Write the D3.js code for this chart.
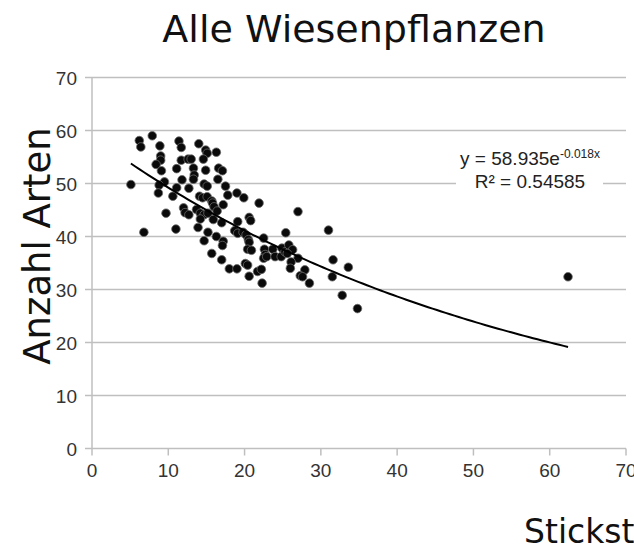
<!DOCTYPE html>
<html>
<head>
<meta charset="utf-8">
<script src="https://cdn.jsdelivr.net/npm/d3@7"></script>
<style>
  body { margin: 0; background: #fff; }
  svg { display: block; }
</style>
</head>
<body>
<script>
var width = 634;
var height = 552;

// Stickstoff (x) and Anzahl Arten (y)
var stickstoff = [6.2, 6.4, 7.9, 8.9, 11.4, 11.7, 14.0, 14.9, 15.1, 16.3,
  9.0, 9.0, 8.4, 11.7, 12.6, 13.0, 14.6, 9.1, 11.1, 13.3,
  13.4, 14.9, 16.6, 17.1, 16.5, 5.1, 9.5, 8.8, 11.8, 13.3,
  14.7, 15.1, 11.1, 12.7, 8.7, 10.6, 14.1, 14.5, 15.1, 15.7,
  15.8, 17.5, 17.8, 19.0, 19.9, 21.9, 17.2, 16.0, 16.4, 12.0,
  12.2, 12.7, 9.7, 13.7, 14.2, 14.7, 15.2, 27.0, 20.6, 20.8,
  14.2, 15.9, 17.0, 19.1, 13.9, 15.2, 16.3, 18.7, 19.1, 19.8,
  20.2, 20.5, 20.6, 20.4, 20.9, 25.4, 31.0, 22.5, 14.7, 17.2,
  17.1, 15.7, 17.0, 18.0, 19.0, 20.1, 20.4, 20.6, 21.7, 22.2,
  22.3, 22.6, 22.7, 22.5, 22.9, 23.7, 24.0, 24.9, 24.8, 25.3,
  25.8, 26.3, 25.6, 27.0, 26.1, 26.0, 27.9, 27.3, 27.6, 28.5,
  31.6, 33.6, 31.5, 32.8, 34.8, 62.4, 11.0, 6.8];
var arten = [58.1, 56.9, 59.0, 57.1, 58.0, 56.8, 57.5, 56.3, 55.7, 55.9,
  55.2, 54.4, 53.6, 54.4, 54.6, 54.6, 54.6, 52.4, 52.8, 52.9,
  51.6, 52.5, 52.9, 52.4, 50.8, 49.8, 50.3, 49.7, 50.7, 50.8,
  49.9, 49.5, 49.2, 49.1, 48.2, 47.6, 47.6, 47.3, 47.5, 46.7,
  46.3, 49.5, 47.8, 48.2, 47.3, 46.3, 46.0, 45.6, 44.8, 45.4,
  44.5, 44.1, 44.4, 45.1, 44.4, 44.1, 44.4, 44.7, 43.6, 43.0,
  43.3, 43.2, 42.6, 42.8, 41.7, 40.8, 40.0, 41.1, 40.6, 40.8,
  40.3, 39.4, 38.9, 37.6, 37.4, 40.7, 41.2, 39.7, 39.2, 39.1,
  38.3, 36.8, 35.6, 33.9, 33.9, 34.9, 34.6, 32.5, 33.4, 33.8,
  31.2, 37.6, 36.6, 35.9, 36.2, 37.6, 36.2, 37.8, 36.2, 37.1,
  38.4, 37.5, 36.8, 35.9, 35.2, 34.0, 33.7, 32.6, 32.4, 31.2,
  35.6, 34.2, 32.4, 28.9, 26.4, 32.4, 41.4, 40.8];

var xTicks = [0, 10, 20, 30, 40, 50, 60, 70];
var yTicks = [0, 10, 20, 30, 40, 50, 60, 70];

// exponential trend line y = a * e^(b x)
var trendA = 58.935;
var trendB = -0.018;
var trendR2 = 0.54585;

var svg = d3.select("body").append("svg")
  .attr("width", width)
  .attr("height", height);

var x = d3.scaleLinear().domain([0, 70]).range([92, 626]);
var y = d3.scaleLinear().domain([0, 70]).range([448.5, 77.5]);

// gridlines
svg.append("g")
  .selectAll("line")
  .data(yTicks)
  .enter()
  .append("line")
  .attr("x1", 85)
  .attr("x2", x(70))
  .attr("y1", function(d) { return y(d); })
  .attr("y2", function(d) { return y(d); })
  .attr("stroke", "#bfbfbf")
  .attr("stroke-width", 1.5);

// y axis line
svg.append("line")
  .attr("x1", x(0)).attr("x2", x(0))
  .attr("y1", y(70)).attr("y2", y(0))
  .attr("stroke", "#bfbfbf")
  .attr("stroke-width", 1.5);

// x ticks
svg.append("g")
  .selectAll("line")
  .data(xTicks)
  .enter()
  .append("line")
  .attr("x1", function(d) { return x(d); })
  .attr("x2", function(d) { return x(d); })
  .attr("y1", y(0))
  .attr("y2", y(0) + 7)
  .attr("stroke", "#bfbfbf")
  .attr("stroke-width", 1.5);

svg.append("g")
  .selectAll("text")
  .data(yTicks)
  .enter()
  .append("text")
  .attr("x", 77)
  .attr("y", function(d) { return y(d) + 7; })
  .attr("text-anchor", "end")
  .style("font-family", "'Liberation Sans', Arial, sans-serif")
  .style("font-size", "19px")
  .style("fill", "#333")
  .text(function(d) { return d; });

svg.append("g")
  .selectAll("text")
  .data(xTicks)
  .enter()
  .append("text")
  .attr("x", function(d) { return x(d); })
  .attr("y", 477)
  .attr("text-anchor", "middle")
  .style("font-family", "'Liberation Sans', Arial, sans-serif")
  .style("font-size", "19px")
  .style("fill", "#333")
  .text(function(d) { return d; });

// points
var points = stickstoff.map(function(v, i) { return { x: v, y: arten[i] }; });

svg.append("g")
  .selectAll("circle")
  .data(points)
  .enter()
  .append("circle")
  .attr("cx", function(d) { return x(d.x); })
  .attr("cy", function(d) { return y(d.y); })
  .attr("r", 4.3)
  .style("fill", "#0a0a0a")
  .attr("stroke", "#6a6a6a")
  .attr("stroke-width", 0.8);

// trend line across the data range
var xMin = d3.min(stickstoff);
var xMax = d3.max(stickstoff);
var trend = d3.range(0, 101).map(function(i) {
  var xv = xMin + (xMax - xMin) * i / 100;
  return [xv, trendA * Math.exp(trendB * xv)];
});

svg.append("path")
  .datum(trend)
  .attr("d", d3.line()
    .x(function(d) { return x(d[0]); })
    .y(function(d) { return y(d[1]); }))
  .attr("fill", "none")
  .attr("stroke", "#000")
  .attr("stroke-width", 2);

// equation label
svg.append("rect")
  .attr("x", 456)
  .attr("y", 142)
  .attr("width", 147)
  .attr("height", 54)
  .style("fill", "#fff");

var eq = svg.append("text")
  .attr("x", 530)
  .attr("y", 165)
  .attr("text-anchor", "middle")
  .style("font-family", "'Liberation Sans', Arial, sans-serif")
  .style("font-size", "19px")
  .style("fill", "#222");
eq.append("tspan").text("y = " + trendA + "e");
eq.append("tspan")
  .attr("dy", -7)
  .style("font-size", "12px")
  .text(trendB + "x");

svg.append("text")
  .attr("x", 530)
  .attr("y", 188)
  .attr("text-anchor", "middle")
  .style("font-family", "'Liberation Sans', Arial, sans-serif")
  .style("font-size", "19px")
  .style("fill", "#222")
  .text("R² = " + trendR2);

// titles
svg.append("text")
  .attr("x", 354)
  .attr("y", 42)
  .attr("text-anchor", "middle")
  .style("font-family", "'DejaVu Sans', sans-serif")
  .style("font-size", "38px")
  .style("fill", "#111")
  .text("Alle Wiesenpflanzen");

svg.append("text")
  .attr("transform", "translate(50,246) rotate(-90)")
  .attr("text-anchor", "middle")
  .style("font-family", "'DejaVu Sans', sans-serif")
  .style("font-size", "37px")
  .style("fill", "#111")
  .text("Anzahl Arten");

svg.append("text")
  .attr("x", 524)
  .attr("y", 543)
  .style("font-family", "'DejaVu Sans', sans-serif")
  .style("font-size", "33px")
  .style("fill", "#111")
  .text("Stickstoff");
</script>
</body>
</html>
